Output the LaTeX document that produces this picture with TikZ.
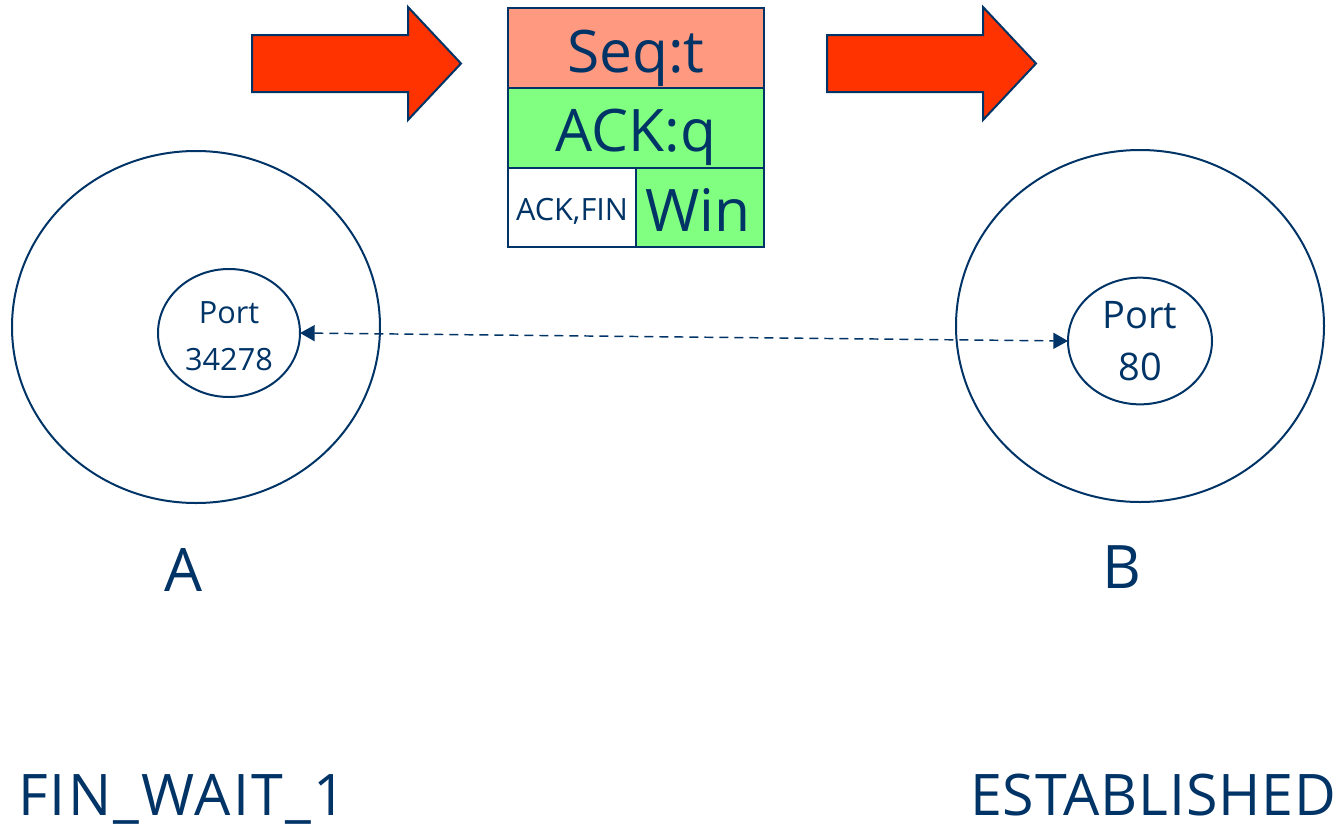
\documentclass[tikz,border=0pt]{standalone}
\usepackage{fontspec}
\setmainfont{Open Sans}
\usetikzlibrary{arrows.meta,shapes.geometric}
\definecolor{ink}{RGB}{0,51,102}
\definecolor{salmon}{RGB}{255,153,128}
\definecolor{lgreen}{RGB}{128,255,128}
\definecolor{arrowred}{RGB}{255,51,0}
\begin{document}
\begin{tikzpicture}[x=0.75pt,y=-0.75pt,
  outl/.style={draw=ink,line width=1.5pt},
  cell/.style={outl,rectangle,inner sep=0pt,outer sep=0pt,anchor=north west},
  txt/.style={text=ink,inner sep=0pt,outer sep=0pt},
  blockarrow/.style={draw=ink,line width=1.5pt,fill=arrowred,line join=miter},
  host/.style={outl,ellipse,inner sep=0pt,minimum width=276pt,minimum height=264pt},
  port/.style={outl,ellipse,inner sep=0pt,outer sep=0pt},
  link/.style={ink,line width=1.1pt,dash pattern=on 6.75pt off 4.5pt,>={Triangle[length=11pt,width=12pt]},<->}]
\useasboundingbox (0,0) rectangle (1340,829);

% block arrows
\draw[blockarrow] (252,35) -- (408,35) -- (408,7) -- (461,63.5) -- (408,120) -- (408,92) -- (252,92) -- cycle;
\draw[blockarrow] (827,35) -- (983,35) -- (983,7) -- (1036,63.5) -- (983,120) -- (983,92) -- (827,92) -- cycle;

% packet
\node[cell,fill=salmon,minimum width=192pt,minimum height=60pt] (seq) at (508,8) {};
\node[cell,fill=lgreen,minimum width=192pt,minimum height=60pt] (ack) at (508,88) {};
\node[cell,fill=white,minimum width=96pt,minimum height=59.25pt] (flags) at (508,168) {};
\node[cell,fill=lgreen,minimum width=96pt,minimum height=59.25pt] (win) at (636,168) {};
\node[txt,anchor=base,font=\fontsize{44}{52}\selectfont] (seqt) at (636,72) {Seq:t};
\node[txt,anchor=base,font=\fontsize{44}{52}\selectfont] (ackt) at (636,151) {ACK:q};
\node[txt,anchor=base,font=\fontsize{23}{28}\selectfont] (flagst) at (572,220) {ACK,FIN};
\node[txt,anchor=base,font=\fontsize{44}{52}\selectfont] (wint) at (698,231) {Win};

% hosts
\node[host] (hostA) at (196,327) {};
\node[host] (hostB) at (1140,326) {};
\node[port,minimum width=106.5pt,minimum height=96pt] (portA) at (229,333) {};
\node[port,minimum width=108pt,minimum height=95pt] (portB) at (1140,341) {};
\node[txt,anchor=base,font=\fontsize{23}{28}\selectfont] (pa1) at (229,323) {Port};
\node[txt,anchor=base,font=\fontsize{23}{28}\selectfont] (pa2) at (229,370) {34278};
\node[txt,anchor=base,font=\fontsize{28.5}{34}\selectfont] (pb1) at (1140,328) {Port};
\node[txt,anchor=base,font=\fontsize{28.5}{34}\selectfont] (pb2) at (1140,380) {80};

% connection
\draw[link] (portA.east) -- (portB.west);

% labels
\node[txt,anchor=base,font=\fontsize{45}{54}\selectfont] (la) at (183,591) {A};
\node[txt,anchor=base,font=\fontsize{45}{54}\selectfont] (lb) at (1122,588) {B};
\node[txt,anchor=base west,font=\fontsize{43}{52}\selectfont\addfontfeature{LetterSpace=4}] (sa) at (18,815) {FIN\_WAIT\_1};
\node[txt,anchor=base west,font=\fontsize{43}{52}\selectfont\addfontfeature{LetterSpace=1.5}] (sb) at (970,815) {ESTABLISHED};
\end{tikzpicture}
\end{document}
